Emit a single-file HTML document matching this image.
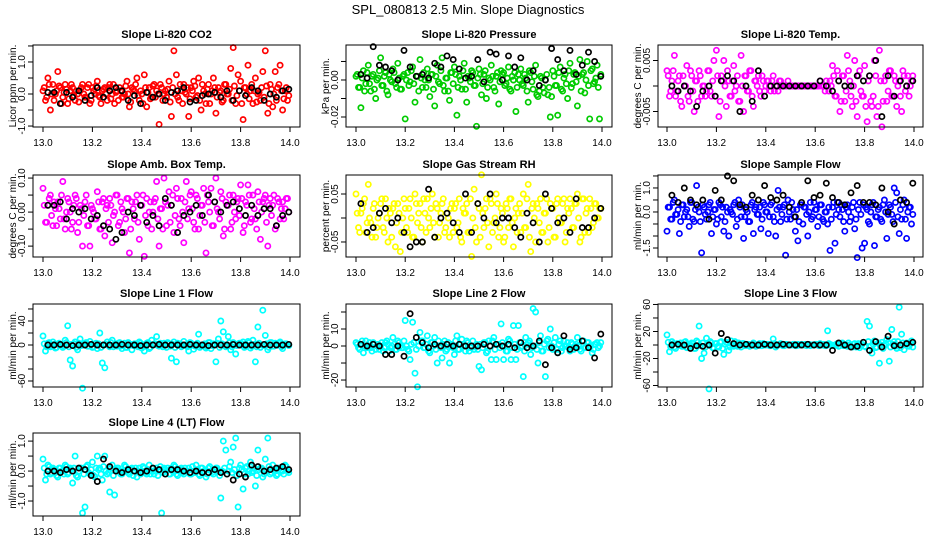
<!DOCTYPE html>
<html><head><meta charset="utf-8">
<style>
html,body{margin:0;padding:0;background:#fff;}
svg{display:block;font-family:"Liberation Sans",sans-serif;}
</style></head>
<body>
<svg id="chart" width="936" height="540" viewBox="0 0 936 540">
<text x="468" y="14" text-anchor="middle" font-size="13">SPL_080813  2.5 Min. Slope Diagnostics</text>
</svg>
<script>
const times = [13.00,13.01,13.02,13.03,13.04,13.05,13.06,13.07,13.08,13.09,13.10,13.11,13.12,13.13,13.14,13.15,13.16,13.17,13.18,13.19,13.20,13.21,13.22,13.23,13.24,13.25,13.26,13.27,13.28,13.29,13.30,13.31,13.32,13.33,13.34,13.35,13.36,13.37,13.38,13.39,13.40,13.41,13.42,13.43,13.44,13.45,13.46,13.47,13.48,13.49,13.50,13.51,13.52,13.53,13.54,13.55,13.56,13.57,13.58,13.59,13.60,13.61,13.62,13.63,13.64,13.65,13.66,13.67,13.68,13.69,13.70,13.71,13.72,13.73,13.74,13.75,13.76,13.77,13.78,13.79,13.80,13.81,13.82,13.83,13.84,13.85,13.86,13.87,13.88,13.89,13.90,13.91,13.92,13.93,13.94,13.95,13.96,13.97,13.98,13.99];
const bandTimes = [13.005,13.015,13.025,13.035,13.045,13.055,13.065,13.075,13.085,13.095,13.105,13.115,13.125,13.135,13.145,13.155,13.165,13.175,13.185,13.195,13.205,13.215,13.225,13.235,13.245,13.255,13.265,13.275,13.285,13.295,13.305,13.315,13.325,13.335,13.345,13.355,13.365,13.375,13.385,13.395,13.405,13.415,13.425,13.435,13.445,13.455,13.465,13.475,13.485,13.495,13.505,13.515,13.525,13.535,13.545,13.555,13.565,13.575,13.585,13.595,13.605,13.615,13.625,13.635,13.645,13.655,13.665,13.675,13.685,13.695,13.705,13.715,13.725,13.735,13.745,13.755,13.765,13.775,13.785,13.795,13.805,13.815,13.825,13.835,13.845,13.855,13.865,13.875,13.885,13.895,13.905,13.915,13.925,13.935,13.945,13.955,13.965,13.975,13.985,13.995];
const blackTimes = [13.020,13.045,13.070,13.095,13.120,13.145,13.170,13.195,13.220,13.245,13.270,13.295,13.320,13.345,13.370,13.395,13.420,13.445,13.470,13.495,13.520,13.545,13.570,13.595,13.620,13.645,13.670,13.695,13.720,13.745,13.770,13.795,13.820,13.845,13.870,13.895,13.920,13.945,13.970,13.995];
const xTicks = [13.0,13.2,13.4,13.6,13.8,14.0];
const xTickLabels = ["13.0","13.2","13.4","13.6","13.8","14.0"];

const co2Values = [0.1,-0.2,0.5,-0.5,0.3,0.0,0.7,0.2,-0.1,0.3,-0.3,0.1,0.2,-0.2,0.0,0.1,0.3,-0.1,0.2,-0.3,0.2,0.0,0.4,-0.1,0.1,0.2,-0.2,0.3,0.0,-0.3,0.1,0.2,-0.1,0.0,0.4,-0.4,0.2,0.1,0.5,-0.2,0.0,0.6,-0.4,0.2,-0.1,0.3,0.1,-0.95,0.2,0.0,-0.1,0.4,-0.7,1.35,0.6,-0.2,0.1,0.3,0.0,-0.7,0.2,0.4,-0.1,0.5,-0.5,0.1,-0.3,0.3,0.0,0.5,-0.6,0.2,0.1,-0.2,0.3,0.0,0.8,1.45,-0.3,0.6,0.4,-0.8,0.2,0.9,0.1,-0.3,0.5,0.0,-0.2,0.7,1.35,-0.6,0.3,-0.4,0.7,0.2,0.9,-0.5,0.1,-0.2];
const co2Band = [0.2,-0.1,0.3,0.0,-0.2,0.1,0.25,-0.3,0.05,0.15,-0.15,0.3,-0.05,0.1,-0.25,0.2,0.0,-0.1,0.3,-0.2,0.1,0.25,-0.05,-0.3,0.15,0.0,0.2,-0.15,0.3,0.05,-0.2,0.1,-0.1,0.25,0.0,-0.25,0.15,0.3,-0.05,0.1,-0.3,0.2,0.05,-0.15,0.25,-0.1,0.0,0.3,-0.2,0.1,0.15,-0.25,0.2,0.0,-0.1,0.3,-0.3,0.05,0.2,-0.15,0.1,0.25,-0.05,-0.2,0.3,0.0,0.15,-0.3,0.1,0.2,-0.1,0.05,-0.25,0.3,0.0,0.15,-0.2,0.25,-0.05,0.1,-0.3,0.2,0.0,-0.15,0.3,0.1,-0.25,0.05,0.2,-0.1,0.25,-0.3,0.15,0.0,-0.2,0.3,0.1,-0.15,0.2,-0.05];
const co2Black = [0.05,0.05,-0.3,0.05,-0.1,0.1,-0.2,-0.05,0.2,-0.1,0.1,0.2,0.1,-0.2,-0.05,-0.3,0.05,-0.1,0.0,-0.2,0.05,0.1,0.2,-0.25,-0.2,-0.05,0.0,0.05,-0.1,0.1,-0.2,0.1,-0.05,0.2,0.1,-0.2,0.0,-0.1,0.1,0.15];
const pressureValues = [0.002,-0.004,-0.015,0.005,-0.002,0.008,-0.006,0.003,-0.01,0.001,0.012,-0.003,0.004,-0.008,0.0,0.006,-0.002,0.009,-0.005,0.002,-0.021,0.004,-0.001,0.007,-0.012,0.002,0.011,-0.004,0.0,0.006,-0.009,0.003,-0.014,0.008,-0.002,0.012,-0.006,0.001,-0.011,0.004,0.007,-0.019,0.002,-0.005,0.009,-0.012,0.001,0.005,-0.003,-0.025,0.006,-0.008,0.003,-0.01,0.001,0.008,-0.004,0.002,-0.013,0.005,0.004,-0.002,0.007,-0.006,0.0,-0.017,0.003,0.006,-0.003,0.001,-0.012,0.004,-0.005,0.008,-0.009,0.002,-0.004,0.0,-0.008,-0.02,0.005,-0.003,-0.019,0.007,-0.006,0.003,-0.01,0.009,-0.002,0.004,-0.014,0.011,0.003,-0.007,0.01,-0.021,0.006,-0.001,0.008,-0.021];
const pressureBand = [0.003,-0.004,0.001,-0.006,0.004,-0.002,0.002,-0.005,0.0,0.005,-0.003,0.002,-0.006,0.003,-0.001,0.004,-0.004,0.001,-0.005,0.003,0.0,-0.003,0.005,-0.002,0.002,-0.006,0.001,0.004,-0.004,0.0,0.003,-0.005,0.002,-0.001,0.005,-0.003,0.001,-0.006,0.004,-0.002,0.003,-0.004,0.0,0.005,-0.005,0.002,-0.001,0.004,-0.003,0.001,0.003,-0.002,0.005,-0.004,0.0,0.002,-0.006,0.004,-0.001,0.003,-0.003,0.001,-0.005,0.002,0.004,-0.004,0.0,-0.002,0.003,-0.006,0.005,-0.001,0.002,-0.008,-0.006,0.001,-0.007,0.003,-0.004,-0.009,0.002,-0.003,0.004,-0.005,0.001,-0.002,0.005,-0.004,0.003,-0.001,0.002,-0.006,0.004,0.0,-0.003,0.005,-0.002,0.001,-0.004,0.003];
const pressureBlack = [0.003,0.001,0.018,0.008,0.007,0.005,0.0,0.016,0.007,0.002,0.003,0.001,0.009,0.007,0.013,0.011,0.006,0.001,0.002,0.011,-0.001,0.015,0.014,0.0,0.013,0.007,0.012,0.0,0.005,-0.003,0.0,0.017,0.011,0.005,0.016,0.003,0.008,0.015,0.01,0.002];
const tempValues = [0.003,-0.002,0.001,0.006,-0.001,0.002,-0.004,0.0,0.004,-0.003,0.002,-0.005,0.001,0.003,-0.002,0.0,-0.001,0.003,-0.002,0.005,0.007,-0.006,0.002,0.005,-0.004,0.001,-0.002,0.004,0.0,-0.003,0.006,-0.005,0.002,-0.001,0.003,-0.004,0.001,0.002,-0.002,0.001,0.0,0.001,-0.001,0.002,0.0,-0.001,0.001,0.0,0.0,0.001,0.0,0.0,0.0,0.0,0.0,0.0,0.0,0.0,0.0,0.0,0.0,0.0,0.001,0.0,-0.001,0.0,0.001,0.004,-0.002,0.003,-0.005,0.002,-0.003,0.006,0.001,-0.004,0.005,-0.006,0.003,-0.002,0.004,-0.007,0.002,-0.004,0.005,-0.006,0.007,-0.008,0.001,-0.003,0.003,-0.002,0.002,-0.004,0.001,-0.005,0.002,0.0,-0.002,0.001];
const tempBand = [0.002,-0.001,0.003,-0.002,0.001,-0.003,0.002,0.0,-0.002,0.003,-0.001,0.001,-0.003,0.002,0.0,-0.002,0.003,-0.001,0.001,-0.002,0.002,-0.003,0.001,0.0,0.003,-0.002,0.001,-0.001,0.002,-0.003,0.0,0.002,-0.001,0.003,-0.002,0.001,0.0,-0.001,0.002,-0.001,0.001,0.0,0.001,-0.001,0.0,0.001,0.0,0.0,0.0,0.0,0.0,0.0,0.0,0.0,0.0,0.0,0.0,0.0,0.0,0.0,0.0,0.0,0.0,0.0,0.001,-0.001,0.0,0.002,-0.002,0.001,-0.003,0.002,-0.001,0.003,-0.002,0.0,-0.003,0.002,-0.001,-0.002,-0.004,0.001,-0.003,-0.002,0.002,-0.004,0.001,-0.003,0.002,-0.001,0.003,-0.002,0.001,0.0,-0.002,0.003,-0.001,0.002,0.0,0.002];
const tempBlack = [0.0,-0.001,0.0,-0.001,-0.004,-0.001,0.0,-0.002,0.001,0.002,0.001,-0.005,0.0,-0.003,0.003,-0.002,0.0,0.0,0.0,0.0,0.0,0.0,0.0,0.0,0.001,0.0,-0.001,0.001,0.0,0.0,0.002,0.001,0.002,0.005,-0.006,0.002,-0.002,0.001,0.0,0.001];
const ambValues = [0.07,-0.03,0.02,0.05,-0.04,0.01,0.03,-0.02,0.09,-0.05,0.04,0.0,-0.03,0.05,-0.06,0.02,-0.1,0.03,-0.04,-0.1,0.01,-0.02,0.06,-0.05,0.03,-0.07,0.02,0.04,-0.09,0.0,0.05,-0.03,0.01,-0.06,0.04,-0.12,0.03,-0.02,0.05,-0.08,0.02,-0.13,0.04,0.0,-0.05,0.03,0.09,-0.1,0.01,0.1,-0.04,0.06,0.02,-0.06,0.07,-0.02,0.04,-0.09,0.09,0.01,0.06,-0.03,0.05,-0.05,0.02,0.07,-0.12,0.03,0.07,-0.04,0.1,0.0,0.06,-0.07,0.03,0.02,-0.05,0.05,-0.02,0.04,0.08,-0.06,0.03,0.08,-0.03,0.05,-0.02,0.06,-0.08,0.03,0.05,-0.1,0.04,0.02,-0.05,0.04,-0.02,0.03,0.01,0.04];
const ambBand = [0.02,-0.03,0.04,-0.01,0.03,-0.04,0.01,0.05,-0.02,0.0,0.03,-0.05,0.02,0.04,-0.03,0.01,-0.01,0.05,-0.04,0.02,0.0,-0.02,0.03,-0.05,0.04,0.01,-0.03,0.02,-0.01,0.05,-0.04,0.03,0.0,-0.02,0.04,-0.05,0.01,0.03,-0.03,0.02,0.05,-0.01,-0.04,0.03,0.0,0.04,-0.02,0.01,-0.05,0.03,0.02,-0.03,0.05,-0.01,0.04,-0.04,0.0,0.03,-0.02,0.05,0.01,-0.05,0.04,-0.01,0.02,-0.03,0.05,0.0,-0.04,0.03,0.01,-0.02,0.04,-0.05,0.02,0.05,-0.03,0.0,0.03,-0.01,0.04,-0.04,0.02,0.05,-0.02,0.01,-0.05,0.03,0.0,0.04,-0.03,0.02,-0.01,0.05,-0.04,0.03,0.01,-0.02,0.04,0.0];
const ambBlack = [0.02,0.02,0.03,-0.02,0.01,0.0,0.01,-0.02,-0.01,-0.04,-0.05,-0.08,-0.06,0.0,-0.01,0.02,-0.03,-0.01,-0.04,0.04,0.02,-0.06,-0.01,0.0,0.02,-0.01,0.05,0.03,0.0,0.02,0.03,0.01,-0.01,0.02,-0.01,0.01,0.01,-0.04,-0.01,0.0];
const rhValues = [0.05,-0.02,0.01,0.03,-0.03,0.07,-0.01,0.02,-0.04,0.0,0.03,-0.02,0.04,-0.05,0.01,0.02,-0.06,0.03,-0.07,0.0,0.02,-0.03,0.04,-0.04,0.05,-0.01,0.03,-0.05,0.01,0.04,-0.02,0.05,-0.04,0.02,-0.01,0.03,-0.03,0.01,-0.04,0.03,0.02,-0.02,0.04,-0.05,0.01,0.03,-0.03,-0.08,0.06,-0.05,0.02,0.09,-0.02,0.04,-0.06,0.03,-0.01,0.05,-0.04,0.02,-0.05,0.03,-0.02,0.04,-0.06,0.02,0.01,-0.03,0.05,-0.02,0.07,-0.07,0.03,-0.05,0.02,0.04,-0.03,0.01,-0.05,0.03,0.02,-0.04,0.04,-0.01,0.03,-0.05,0.02,0.04,-0.02,0.03,0.05,-0.05,0.04,-0.03,0.02,0.04,-0.02,0.03,0.0,0.02];
const rhBand = [0.01,-0.03,0.02,0.04,-0.01,0.0,-0.04,0.03,-0.02,0.01,0.04,-0.03,0.0,0.02,-0.04,0.03,-0.01,0.01,-0.03,0.04,-0.02,0.02,0.0,-0.04,0.03,0.01,-0.02,0.04,-0.03,0.0,0.02,-0.01,0.03,-0.04,0.01,0.04,-0.02,0.0,0.02,-0.03,0.03,-0.01,-0.04,0.02,0.01,-0.03,0.04,0.0,-0.02,0.03,-0.04,0.01,0.02,-0.01,0.04,-0.03,0.0,0.03,-0.02,0.01,-0.04,0.02,0.04,-0.01,0.0,-0.03,0.03,0.01,-0.02,0.04,-0.04,0.02,0.0,0.03,-0.01,-0.03,0.01,0.04,-0.02,0.02,-0.04,0.03,0.0,-0.01,0.04,-0.03,0.01,0.02,-0.02,0.03,0.0,-0.04,0.04,0.01,-0.03,0.02,-0.01,0.03,0.0,0.02];
const rhBlack = [0.03,-0.03,-0.02,0.01,0.02,-0.01,0.0,-0.03,-0.06,-0.05,-0.05,0.06,-0.04,0.0,0.01,-0.01,-0.03,0.05,-0.03,0.03,0.0,0.05,-0.01,0.0,0.0,-0.02,-0.04,0.01,-0.01,-0.05,0.05,0.02,-0.01,0.0,-0.03,0.04,-0.02,-0.02,0.0,0.02];
const sampleValues = [-0.8,0.2,-0.3,0.5,-0.1,-0.9,0.3,-0.2,0.1,-0.6,0.4,-0.4,1.1,0.0,-1.7,0.2,-0.3,0.3,-0.9,0.1,-0.5,0.4,-0.2,-0.8,0.2,-1.0,0.0,0.3,-0.6,0.5,-0.2,-1.1,0.1,-0.4,0.3,-0.9,0.2,-0.1,-0.7,0.4,0.0,-0.9,0.3,-0.2,-1.0,0.9,-0.4,0.2,-1.8,0.5,-0.3,0.1,-0.8,-1.2,0.3,-0.5,0.2,-1.0,0.4,-0.2,0.1,-0.6,0.3,-0.3,0.0,-0.5,-1.6,0.2,-1.3,0.4,-0.2,0.1,-0.8,0.3,-0.4,0.2,-0.7,-1.9,0.4,-1.5,-1.3,0.1,-0.5,0.3,-1.4,-0.2,0.2,-0.4,0.5,-1.1,0.3,-0.1,1.0,0.8,-0.9,-0.3,0.5,-1.1,0.2,-0.5];
const sampleBand = [0.2,-0.3,0.4,-0.1,0.1,-0.4,0.3,0.0,-0.2,0.4,-0.3,0.1,0.2,-0.4,0.3,-0.1,0.0,0.4,-0.2,0.1,-0.3,0.3,0.2,-0.4,0.0,0.1,-0.1,0.4,-0.3,0.2,0.3,-0.2,0.0,-0.4,0.4,0.1,-0.1,0.2,-0.3,0.3,0.0,-0.2,0.4,-0.4,0.1,0.2,-0.1,0.3,-0.3,0.0,0.4,-0.2,0.1,-0.4,0.3,0.2,-0.1,0.0,-0.3,0.4,0.1,-0.2,0.3,-0.4,0.0,0.2,-0.3,0.4,-0.1,0.1,0.3,-0.4,0.2,0.0,-0.2,0.4,-0.3,0.1,-0.1,0.3,0.2,-0.4,0.0,0.4,-0.2,0.1,-0.3,0.3,0.0,-0.1,0.2,-0.4,0.4,-0.2,0.1,0.3,-0.3,0.0,0.2,-0.1];
const sampleBlack = [0.7,0.4,1.0,0.5,0.3,0.5,-0.3,0.9,0.5,1.5,1.3,0.3,0.2,0.7,0.5,1.1,0.6,0.5,0.7,0.2,-0.2,0.4,1.3,0.6,0.7,1.2,0.6,0.4,0.3,0.8,1.1,0.4,0.4,0.3,1.0,0.0,-0.5,0.5,0.4,1.2];
const line1Values = [15,-10,3,-3,5,-5,2,0,-4,8,32,-25,-35,5,-8,10,-72,3,-2,6,-4,2,-6,20,-30,-38,5,-3,8,0,-2,4,-6,3,-4,1,-8,2,0,5,-5,-10,3,-6,8,1,14,-2,0,3,-4,2,-22,5,-28,1,-3,6,0,-10,3,-7,1,18,-2,0,-5,4,-6,2,-28,10,40,22,-3,14,-8,4,-15,2,0,5,-3,6,-5,8,-28,30,-4,58,16,-8,4,-2,3,0,5,-6,2,1];
const line1Band = [2,-3,4,-1,1,-4,3,0,-2,4,-3,1,2,-4,3,-1,0,4,-2,1,-3,3,2,-4,0,1,-1,4,-3,2,3,-2,0,-4,4,1,-1,2,-3,3,0,-2,4,-4,1,2,-1,3,-3,0,4,-2,1,-4,3,2,-1,0,-3,4,1,-2,3,-4,0,2,-3,4,-1,1,3,-4,2,0,-2,4,-3,1,-1,3,2,-4,0,4,-2,1,-3,3,0,-1,2,-4,4,-2,1,3,-3,0,2,-1];
const line1Black = [0,0,1,0,-1,0,0,1,0,0,0,0,1,0,0,-1,0,0,1,0,0,0,0,1,0,0,-1,0,0,0,1,0,0,0,0,1,0,0,0,1];
const line2Values = [2,-1,1,-4,3,0,-1,2,-2,1,0,-3,2,1,-1,5,-2,3,0,-1,15,-2,-8,14,-16,-24,8,3,-1,6,-4,2,5,-10,0,-7,3,-2,-10,1,-5,6,-2,4,0,3,-3,-1,-2,1,-12,-14,2,-4,3,-8,5,-8,1,13,-8,-3,4,-8,12,-8,12,-1,-18,5,2,-5,22,20,-10,6,-3,-18,4,10,-2,5,-4,3,-1,0,2,-3,1,0,5,-2,3,-1,2,0,-4,1,2,0];
const line2Band = [1,-2,3,0,-1,2,-3,1,0,-2,2,-1,3,-3,0,1,-2,2,-1,3,0,-3,1,2,-2,0,3,-1,1,-3,2,0,-2,3,-1,1,-3,2,0,-1,3,-2,1,0,-3,2,-1,3,0,-2,1,-1,2,-3,0,3,-2,1,-1,2,0,-3,3,-1,1,-2,2,0,-3,1,3,-1,0,-2,2,-3,1,3,-1,0,2,-2,1,-3,3,0,-1,2,-2,1,0,-3,3,-1,2,0,-2,1,-1,2];
const line2Black = [1,0,1,0,-5,-5,0,-6,19,5,2,-1,1,0,1,0,1,0,0,0,1,0,1,0,1,-1,2,-1,0,3,-11,-1,-4,6,-2,-1,3,-1,-7,7];
const line3Values = [15,-10,5,-3,2,0,-2,4,-4,1,3,-5,6,28,-20,-12,10,-65,3,-5,2,-3,5,-14,4,-8,6,-2,0,3,-3,2,-1,1,0,3,-2,1,-1,2,0,1,-1,9,-3,0,2,-1,1,0,0,1,-1,1,0,0,1,0,-1,0,1,0,2,0,-1,21,1,-1,0,2,-1,3,1,-2,0,-3,2,0,-4,1,-2,35,28,-12,6,-3,-27,4,-1,8,-24,23,5,-5,56,16,-7,3,-2,6];
const line3Band = [4,-3,2,-5,1,3,-2,5,-4,0,2,-5,4,-1,3,-3,1,5,-4,2,-2,4,-5,1,3,-3,0,5,-2,1,2,-1,1,-2,0,1,-1,2,-1,0,1,-1,0,2,-1,1,0,-1,1,0,0,1,-1,0,1,0,-1,1,0,0,1,-1,0,1,-1,2,0,-1,1,-2,2,-1,0,3,-2,1,-3,2,-1,4,-3,5,-2,1,-4,3,0,-5,2,4,-3,1,-2,5,-4,3,0,-1,2,-3];
const line3Black = [0,1,0,-5,-1,-2,0,-12,17,8,2,0,1,0,0,1,0,0,1,0,0,0,1,0,0,0,-8,3,0,-3,-2,4,-8,5,-3,13,-1,0,2,4];
const line4Values = [0.4,-0.3,0.2,-0.1,0.1,0.0,-0.2,0.1,0.0,0.2,-0.1,0.1,-0.4,0.5,-0.2,0.1,-1.4,-1.2,0.2,-0.1,0.3,-0.2,0.5,0.1,-0.3,0.5,-0.1,-0.7,0.2,-0.8,0.1,0.0,-0.1,0.2,0.0,-0.1,0.1,0.0,-0.2,0.1,0.0,0.1,-0.1,0.2,0.0,-0.1,0.1,0.0,-1.4,0.1,0.0,-0.1,0.1,0.2,-0.1,0.0,0.1,-0.1,0.0,0.1,-0.1,0.0,0.2,-0.1,0.1,0.0,-0.2,0.1,0.0,-0.1,0.1,0.0,-0.9,1.0,0.7,0.0,0.3,0.8,1.1,-1.2,0.2,-0.6,0.1,-0.1,0.3,0.0,-0.5,0.7,0.1,-0.2,0.4,1.1,-0.1,0.2,0.0,-0.1,0.1,0.0,0.2,0.0];
const line4Band = [0.1,-0.1,0.15,-0.05,0.05,-0.15,0.1,0.0,-0.1,0.15,-0.05,0.05,0.1,-0.15,0.0,0.1,-0.1,0.15,-0.05,0.05,-0.15,0.1,0.05,-0.1,0.15,0.0,-0.05,0.1,-0.15,0.05,0.1,-0.1,0.0,0.15,-0.05,0.05,-0.15,0.1,0.0,-0.1,0.15,-0.05,0.05,-0.1,0.1,0.0,-0.15,0.15,-0.05,0.05,0.1,-0.1,0.0,0.15,-0.15,0.05,-0.05,0.1,0.0,-0.1,0.15,-0.05,0.05,-0.15,0.1,0.0,-0.1,0.15,-0.05,0.05,0.1,-0.15,0.0,0.1,-0.1,0.15,-0.05,0.05,-0.15,0.1,0.05,-0.1,0.15,0.0,-0.05,0.1,-0.15,0.05,0.1,-0.1,0.0,0.15,-0.05,0.05,-0.15,0.1,0.0,-0.1,0.15,-0.05];
const line4Black = [0.0,0.0,-0.05,0.05,0.0,0.1,0.05,-0.15,-0.35,0.4,0.15,0.0,-0.05,0.05,0.0,-0.05,0.0,0.1,0.05,-0.1,0.05,0.05,0.0,-0.05,0.0,-0.05,-0.05,0.05,-0.05,-0.1,-0.3,-0.1,-0.2,0.2,0.15,0.0,0.05,0.1,0.15,0.05];

const NS = "http://www.w3.org/2000/svg";
const svg = document.getElementById("chart");
const cols = [{l:33,r:300,x0:43,x1:290,yt:12},{l:346,r:612,x0:356,x1:602,yt:325},{l:658,r:923,x0:667,x1:914,yt:637}];
const rows = [{t:45,b:127},{t:175,b:257},{t:304,b:387},{t:433,b:516}];

function mk(tag, attrs, parent){ const e=document.createElementNS(NS,tag); for(const k in attrs) e.setAttribute(k,attrs[k]); (parent||svg).appendChild(e); return e; }

function panel(slug, title, ylabel, col, row, ymin, ymax, yTicks, yTickLabels, color, vals, band, blackVals){
  const c=cols[col], r=rows[row];
  const g=mk("g",{});
  
  
  const sx = v => c.x0 + (v-13)/(14-13)*(c.x1-c.x0);
  const sy = v => r.b - (v-ymin)/(ymax-ymin)*(r.b-r.t);
  const tt=mk("text",{x:(c.l+c.r)/2,y:r.t-7,"text-anchor":"middle","font-size":"11","font-weight":"bold"},g);
  tt.textContent=title;
  
  
  const yl=mk("text",{x:0,y:0,"text-anchor":"middle","font-size":"10",transform:`translate(${c.yt+4},${(r.t+r.b)/2}) rotate(-90)`},g);
  yl.textContent=ylabel;
  
  
  const pts=mk("g",{fill:"none","stroke-width":"1.7"},g);
  
  
  band.forEach((v,i)=>{
    const p=mk("circle",{cx:sx(bandTimes[i]).toFixed(1),cy:sy(v).toFixed(1),r:"2.6",stroke:color},pts);
    
    
  });
  vals.forEach((v,i)=>{
    const p=mk("circle",{cx:sx(times[i]).toFixed(1),cy:sy(v).toFixed(1),r:"2.6",stroke:color},pts);
    
    
  });
  blackVals.forEach((v,i)=>{
    const p=mk("circle",{cx:sx(blackTimes[i]).toFixed(1),cy:sy(v).toFixed(1),r:"2.6",stroke:"#000"},pts);
    
    
  });
  const box=mk("rect",{x:c.l,y:r.t,width:c.r-c.l,height:r.b-r.t,fill:"none",stroke:"#000","stroke-width":"1"},g);
  
  
  const xa=mk("g",{},g);
  
  
  xTicks.forEach((v,i)=>{
    mk("line",{x1:sx(v),x2:sx(v),y1:r.b,y2:r.b+5,stroke:"#000"},xa);
    const t=mk("text",{x:sx(v),y:r.b+19,"text-anchor":"middle","font-size":"10"},xa);
    t.textContent=xTickLabels[i];
    
    
  });
  const ya=mk("g",{},g);
  
  
  yTicks.forEach((v,i)=>{
    const y=sy(v);
    mk("line",{x1:c.l-5,x2:c.l,y1:y,y2:y,stroke:"#000"},ya);
    if(yTickLabels[i]){
      const t=mk("text",{x:0,y:0,"text-anchor":"middle","font-size":"10",transform:`translate(${c.l-8},${y}) rotate(-90)`},ya);
      t.textContent=yTickLabels[i];
      
      
    }
  });
}

panel("co2","Slope Li-820 CO2","Licor ppm per min.",0,0,-1.03,1.53,[-1,-0.5,0,0.5,1,1.5],["-1.0","","0.0","","1.0",""],"#ff0000",co2Values,co2Band,co2Black);
panel("pressure","Slope Li-820 Pressure","kPa per min.",1,0,-0.0254,0.0189,[-0.02,-0.01,0,0.01],["-0.02","","0.00",""],"#00cc00",pressureValues,pressureBand,pressureBlack);
panel("temp","Slope Li-820 Temp.","degrees C per min.",2,0,-0.00804,0.00804,[-0.005,0,0.005],["-0.005","","0.005"],"#ff00ff",tempValues,tempBand,tempBlack);
panel("amb-box","Slope Amb. Box Temp.","degrees C per min.",0,1,-0.132,0.109,[-0.1,-0.05,0,0.05,0.1],["-0.10","","0.00","","0.10"],"#ff00ff",ambValues,ambBand,ambBlack);
panel("rh","Slope Gas Stream RH","percent per min.",1,1,-0.0813,0.0896,[-0.05,0,0.05],["-0.05","","0.05"],"#ffff00",rhValues,rhBand,rhBlack);
panel("sample-flow","Slope Sample Flow","ml/min per min.",2,1,-1.875,1.54,[-1.5,-1,-0.5,0,0.5,1,1.5],["-1.5","","","0.0","","1.0",""],"#0000ff",sampleValues,sampleBand,sampleBlack);
panel("line1","Slope Line 1 Flow","ml/min per min.",0,2,-70,68.3,[-60,-40,-20,0,20,40,60],["-60","","","0","","40",""],"#00ffff",line1Values,line1Band,line1Black);
panel("line2","Slope Line 2 Flow","ml/min per min.",1,2,-24.1,24.7,[-20,-10,0,10,20],["-20","","0","10",""],"#00ffff",line2Values,line2Band,line2Black);
panel("line3","Slope Line 3 Flow","ml/min per min.",2,2,-62.2,60.7,[-60,-40,-20,0,20,40,60],["-60","","-20","","20","","60"],"#00ffff",line3Values,line3Band,line3Black);
panel("line4","Slope Line 4 (LT) Flow","ml/min per min.",0,3,-1.5,1.27,[-1,-0.5,0,0.5,1],["-1.0","","0.0","","1.0"],"#00ffff",line4Values,line4Band,line4Black);
</script>
</body></html>
